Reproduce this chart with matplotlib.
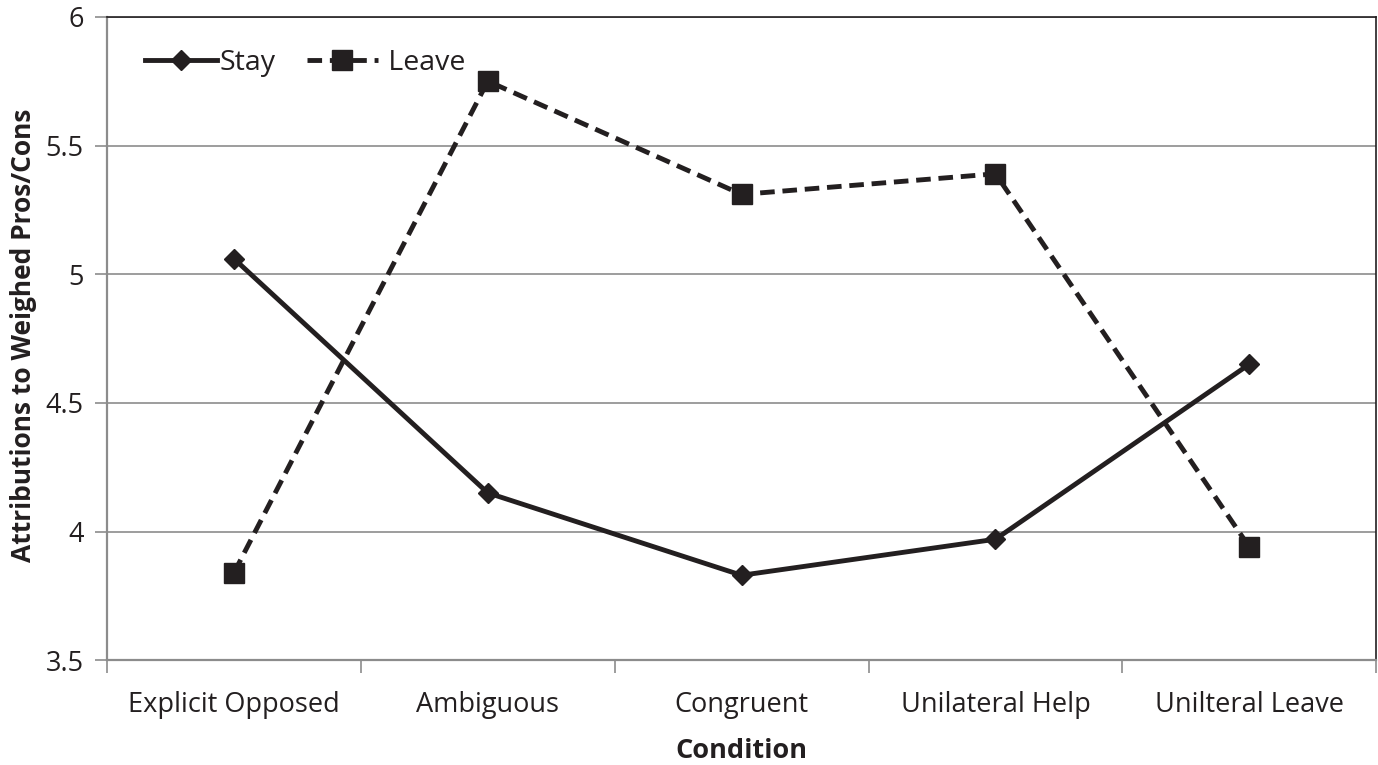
import numpy as np
import matplotlib
matplotlib.use("Agg")
import matplotlib.pyplot as plt
from matplotlib.ticker import FixedLocator

plt.rcParams['font.family'] = ['Open Sans', 'DejaVu Sans']

conditions = ["Explicit Opposed", "Ambiguous", "Congruent", "Unilateral Help", "Unilteral Leave"]
stay = [5.06, 4.15, 3.83, 3.97, 4.65]
leave = [3.84, 5.75, 5.31, 5.39, 3.94]
y_ticks = [3.5, 4, 4.5, 5, 5.5, 6]
y_labels = ["3.5", "4", "4.5", "5", "5.5", "6"]

fig = plt.figure(figsize=(13.78, 7.65), dpi=100)
ax = fig.add_axes([0.0777, 0.137, 0.921, 0.841])

x = np.arange(len(conditions))
ax.plot(x, stay, color="#231f20", lw=3.5, marker="D", ms=10, label="Stay", zorder=3)
ax.plot(x, leave, color="#231f20", lw=3.5, ls=(0, (3, 1.6)), marker="s", ms=14,
        label=" Leave", zorder=3)

ax.set_xlim(-0.5, len(conditions) - 0.5)
ax.set_ylim(3.5, 6)
ax.set_yticks(y_ticks)
ax.set_yticklabels(y_labels)
ax.yaxis.grid(True, color="#8c8c8c", lw=1.2)
ax.set_axisbelow(True)

ax.xaxis.set_major_locator(FixedLocator(np.arange(-0.5, len(conditions), 1.0)))
ax.xaxis.set_minor_locator(FixedLocator(x))
ax.set_xticklabels([], minor=False)
ax.set_xticklabels(conditions, minor=True)
ax.tick_params(axis="x", which="major", length=9, width=1.2, color="#8c8c8c", direction="out")
ax.tick_params(axis="x", which="minor", length=0, pad=22, labelsize=19.5, labelcolor="#231f20")
ax.tick_params(axis="y", length=9, width=1.2, color="#8c8c8c", labelsize=19.5,
               labelcolor="#231f20", pad=8)

for s in ["left", "bottom"]:
    ax.spines[s].set_color("#8c8c8c")
    ax.spines[s].set_linewidth(1.6)
for s in ["top", "right"]:
    ax.spines[s].set_color("#231f20")
    ax.spines[s].set_linewidth(1.2)

ax.set_xlabel("Condition", fontsize=19.5, fontweight="bold", color="#231f20", labelpad=14)
fig.text(24 / 1378, 0.562, "Attributions to Weighed Pros/Cons", rotation=90,
         ha="center", va="center", fontsize=19, fontweight="bold", color="#231f20")

ax.legend(loc="upper left", ncol=2, frameon=False, fontsize=20.5, handlelength=2.5,
          handletextpad=0.1, columnspacing=1.1, bbox_to_anchor=(0.01, 0.99),
          labelcolor="#231f20")

fig.savefig("out.png", dpi=100)
